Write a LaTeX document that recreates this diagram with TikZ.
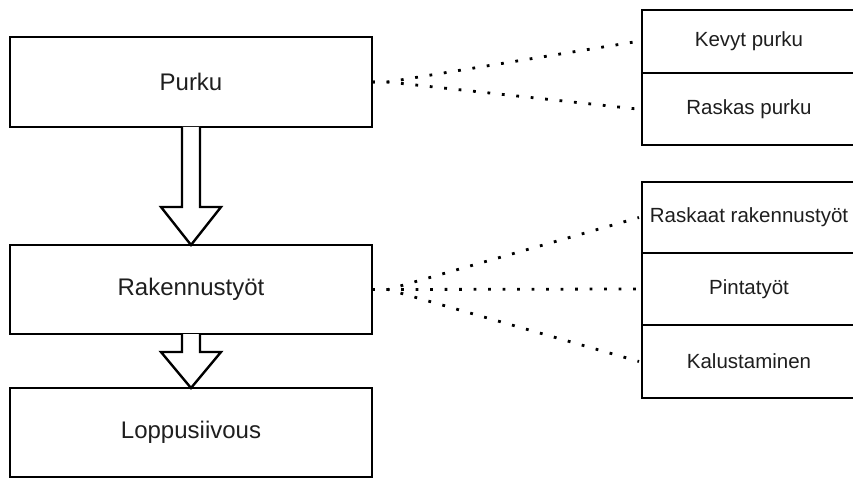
\documentclass[tikz,border=0pt]{standalone}
\usepackage{fontspec}
\setmainfont{Liberation Sans}
\usetikzlibrary{calc}
\definecolor{txt}{HTML}{1E1E1E}
\tikzset{
  stage/.style={draw=black, line width=2.4pt, fill=white, minimum width=362pt, inner sep=0pt, outer sep=0pt,
    text=txt, font=\fontsize{24}{28}\selectfont},
  cell/.style={draw=black, line width=1.3pt, fill=white, minimum width=214pt, inner sep=0pt, outer sep=0pt,
    text=txt, font=\fontsize{20.5}{24}\selectfont},
  dots/.style={line width=2.8pt, dash pattern=on 2.8pt off 11.7pt, line cap=butt},
  blockarrow/.style={draw=black, line width=2.4pt, fill=white, line join=miter}
}
\begin{document}
\begin{tikzpicture}[x=1pt, y=-1pt]
\useasboundingbox (0,0) rectangle (853,478);
\clip (0,0) rectangle (853,478);
% stages
\node[stage, minimum height=90pt] (purku) at (191,82) {Purku};
\node[stage, minimum height=89pt] (rak) at (191,289.5) {Rakennustyöt};
\node[stage, minimum height=89pt] (lopp) at (191,432.5) {Loppusiivous};
% sub-task cells
\node[cell, minimum height=63pt] (k1) at (749,41.5) {Kevyt purku};
\node[cell, minimum height=72pt] (k2) at (749,109) {Raskas purku};
\node[cell, minimum height=71pt] (r1) at (749,217.5) {Raskaat rakennustyöt};
\node[cell, minimum height=72pt] (r2) at (749,289) {Pintatyöt};
\node[cell, minimum height=73pt] (r3) at (749,361.5) {Kalustaminen};
% block arrows
\draw[blockarrow] ($(purku.south)+(-9,0)$) -- ($(purku.south)+(-9,80)$) -- ($(purku.south)+(-30,80)$)
  -- (rak.north) -- ($(purku.south)+(30,80)$) -- ($(purku.south)+(9,80)$) -- ($(purku.south)+(9,0)$);
\draw[blockarrow] ($(rak.south)+(-9,0)$) -- ($(rak.south)+(-9,18)$) -- ($(rak.south)+(-30,18)$)
  -- (lopp.north) -- ($(rak.south)+(30,18)$) -- ($(rak.south)+(9,18)$) -- ($(rak.south)+(9,0)$);
% dotted connectors
\draw[dots] (purku.east) -- ++(16,0) -- ([xshift=-5pt]k1.west);
\draw[dots] (purku.east) -- ++(16,0) -- ([xshift=-5pt]k2.west);
\draw[dots] (rak.east) -- ++(16,0) -- ([xshift=-3pt]r1.west);
\draw[dots] (rak.east) -- ++(16,0) -- ([xshift=-3pt]r2.west);
\draw[dots] (rak.east) -- ++(16,0) -- ([xshift=-3pt]r3.west);
\end{tikzpicture}
\end{document}
